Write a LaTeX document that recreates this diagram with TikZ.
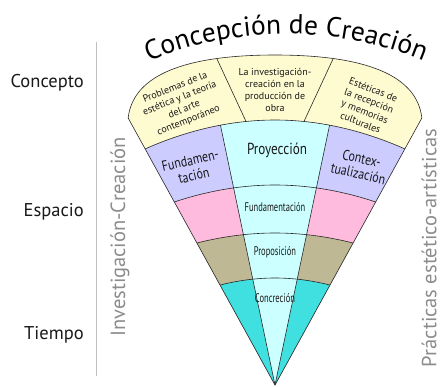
\documentclass[tikz,border=0pt]{standalone}
\usepackage{fontspec}
\setmainfont{PT Sans}
\newfontfamily\condf[FakeStretch=0.68]{PT Sans}
\newfontfamily\semif[FakeStretch=0.82]{PT Sans}
\usetikzlibrary{decorations.text}
\definecolor{cyellow}{RGB}{255,251,208}
\definecolor{clav}{RGB}{204,204,255}
\definecolor{clcyan}{RGB}{204,255,255}
\definecolor{cpink}{RGB}{255,187,221}
\definecolor{colive}{RGB}{190,184,148}
\definecolor{ccyan}{RGB}{64,224,224}
\definecolor{cline}{RGB}{40,40,40}
\definecolor{cgray}{RGB}{140,140,140}
\def\fanpath{(275,-385) -- (128.15,-118) .. controls (133,-75) and (185,-55) .. (275,-55) .. controls (365,-55) and (417,-75) .. (421.85,-118) -- cycle}
\def\belowA{(115,-164.06) parabola bend (275,-120) (435,-164.06) -- (435,-390) -- (115,-390) -- cycle}
\def\belowB{(115,-227.96) parabola bend (275,-185) (435,-227.96) -- (435,-390) -- (115,-390) -- cycle}
\def\belowC{(115,-274.98) parabola bend (275,-233) (435,-274.98) -- (435,-390) -- (115,-390) -- cycle}
\def\belowD{(115,-337.24) parabola bend (275,-278) (435,-337.24) -- (435,-390) -- (115,-390) -- cycle}
\begin{document}
\begin{tikzpicture}[x=1pt,y=1pt,
  fanline/.style={draw=cline, line width=0.6pt},
  lab/.style={font=\fontsize{18.5}{21}\selectfont, text=black!90, inner sep=0pt},
  side/.style={font=\fontsize{20.5}{24}\selectfont, text=cgray, inner sep=0pt},
  small/.style={font=\fontsize{10}{11.8}\selectfont, align=center, inner sep=0pt, text=black!90},
  mid/.style={font=\semif\fontsize{14.5}{15.5}\selectfont, align=center, inner sep=0pt, text=black!90},
  big/.style={font=\semif\fontsize{16}{18}\selectfont, inner sep=0pt, text=black!90},
  cond/.style={font=\condf\fontsize{12.5}{14}\selectfont, inner sep=0pt, text=black!90}]
\useasboundingbox (0,0) rectangle (441,-386);
\fill[white] (0,0) rectangle (441,-386);

% fan fills
\begin{scope}
  \clip \fanpath;
  \fill[cyellow] \fanpath;
  \fill[clav] \belowA;
  \fill[cpink] \belowB;
  \fill[colive] \belowC;
  \fill[ccyan] \belowD;
  \begin{scope}
    \clip \belowA;
    \fill[clcyan] (275,-385) -- (215.15,-100) -- (334.85,-100) -- cycle;
    \draw[fanline] (275,-385) -- (215.15,-100);
    \draw[fanline] (275,-385) -- (334.85,-100);
  \end{scope}
  \draw[fanline] (115,-164.06) parabola bend (275,-120) (435,-164.06);
  \draw[fanline] (115,-227.96) parabola bend (275,-185) (435,-227.96);
  \draw[fanline] (115,-274.98) parabola bend (275,-233) (435,-274.98);
  \draw[fanline] (115,-337.24) parabola bend (275,-278) (435,-337.24);
  \draw[fanline] (246,-121.4) -- (210.5,-45);
  \draw[fanline] (304,-121.4) -- (339.5,-45);
\end{scope}
\draw[fanline] \fanpath;

% title on arc
\path[decorate, decoration={text along path, text align=center,
  text={|\fontsize{27.5}{32}\selectfont|Concepción de Creación}}]
  (106,-82.23) .. controls (217.4,-17.9) and (354.6,-17.9) .. (466,-82.23);

% left labels and rule
\node[lab, anchor=east] (concepto) at (84,-83) {Concepto};
\node[lab, anchor=east] (espacio) at (84,-212) {Espacio};
\node[lab, anchor=east] (tiempo) at (84,-335) {Tiempo};
\draw[black!25, line width=0.8pt] (96,-42) -- (96,-376);

% vertical labels
\node[side, rotate=90] (invcre) at (120,-237) {Investigación-Creación};
\node[side, rotate=90] (practicas) at (429,-248) {Prácticas estético-artísticas};

% yellow band texts
\node[small, rotate=22] (y1) at (182,-104) {Problemas de la\\estética y la teoría\\del arte\\contemporáneo};
\node[small] (y2) at (275,-90) {La investigación-\\creación en la\\producción de\\obra};
\node[small, rotate=-21] (y3) at (367,-106) {Estéticas de\\la recepción\\y memorias\\culturales};

% second row
\node[mid, rotate=13] (fund1) at (192,-168) {Fundamen-\\tación};
\node[big] (proy) at (277,-150) {Proyección};
\node[mid, rotate=-13] (contex) at (360,-166) {Contex-\\tualización};

% center column
\node[cond] (fund2) at (275,-207) {Fundamentación};
\node[cond] (propo) at (275,-252) {Proposición};
\node[cond] (concr) at (275,-298) {Concreción};
\end{tikzpicture}
\end{document}
